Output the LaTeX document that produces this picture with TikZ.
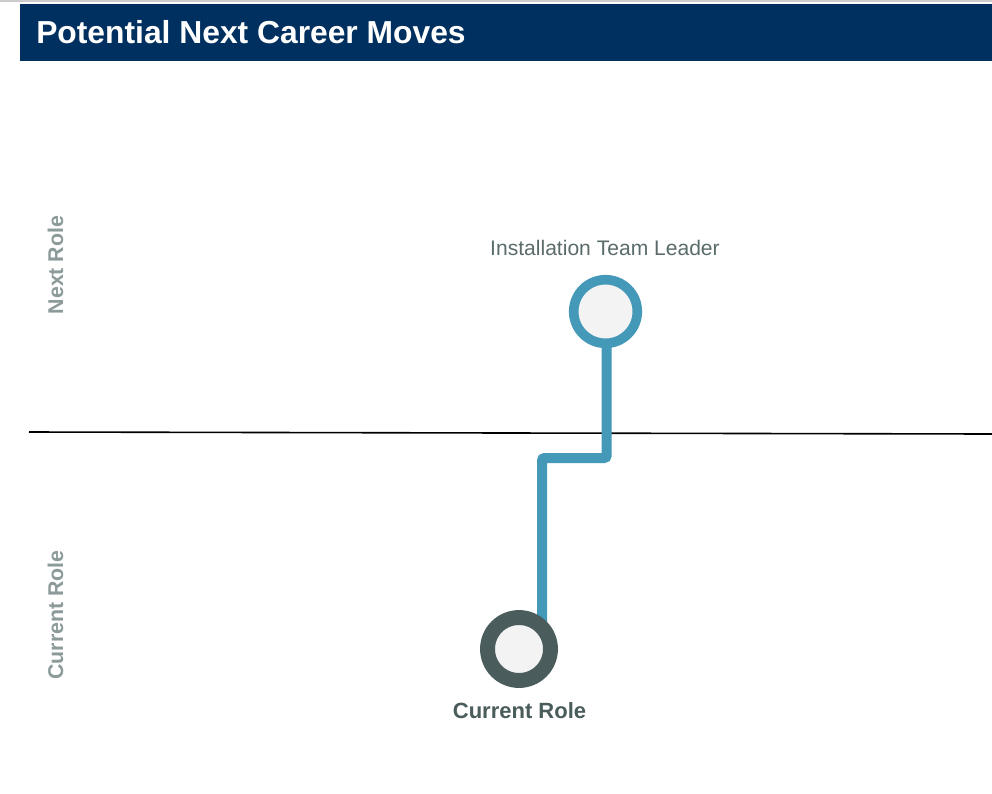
\documentclass[tikz,border=0pt]{standalone}
\usepackage{fontspec}
\setmainfont{Liberation Sans}
\usetikzlibrary{backgrounds}
\definecolor{navy}{HTML}{00305F}
\definecolor{teal}{HTML}{4499B9}
\definecolor{darkring}{HTML}{4A5C5B}
\definecolor{labelgray}{HTML}{5B6B6B}
\definecolor{sidegray}{HTML}{8C9A9A}
\definecolor{innerfill}{HTML}{F3F3F3}
\definecolor{stripgray}{HTML}{CCCCCC}
\tikzset{
  rolenode/.style={circle, inner sep=0pt, fill=innerfill},
  nextring/.style={rolenode, draw=teal, line width=7.2pt, minimum size=47.7pt},
  curring/.style={rolenode, draw=darkring, line width=11.2pt, minimum size=47.2pt},
  conn/.style={draw=teal, line width=7.5pt, rounded corners=2pt},
  sidelabel/.style={rotate=90, anchor=base, text=sidegray, font=\fontsize{16}{19}\selectfont\bfseries},
}
\begin{document}
\begin{tikzpicture}[x=0.75pt,y=-0.75pt]
\useasboundingbox (0,0) rectangle (992,793);
\begin{scope}[on background layer]
\fill[white] (0,0) rectangle (992,793);
\end{scope}
\fill[stripgray] (0,0) rectangle (992,1.5);
\fill[navy] (20,4) rectangle (992,61);
\node[anchor=base west, inner sep=0pt, text=white, font=\fontsize{23.85}{28}\selectfont\bfseries] (title) at (36,43) {Potential Next Career Moves};
\coordinate (axl) at (29,432);
\coordinate (axr) at (992,434);
\node[sidelabel] (nextlbl) at (63,265) {Next Role};
\node[sidelabel] (curlbl) at (63,615) {Current Role};
\node[nextring] (lead) at (605.5,311.5) {};
\node[curring] (cur) at (519,649) {};
\coordinate (jog) at (542,458);
\begin{scope}[on background layer]
\draw[black, line width=1.2pt] (axl) -- (axr);
\draw[conn] ([xshift=0.9pt]lead.center) |- (jog) -- ([xshift=17.25pt]cur.center);
\end{scope}
\node[anchor=base, inner sep=0pt, text=labelgray, font=\fontsize{15.8}{19}\selectfont] (leadlbl) at (605,255) {Installation Team Leader};
\node[anchor=base, inner sep=0pt, text=darkring, font=\fontsize{16.5}{20}\selectfont\bfseries] (curname) at (519.5,718) {Current Role};
\end{tikzpicture}
\end{document}
